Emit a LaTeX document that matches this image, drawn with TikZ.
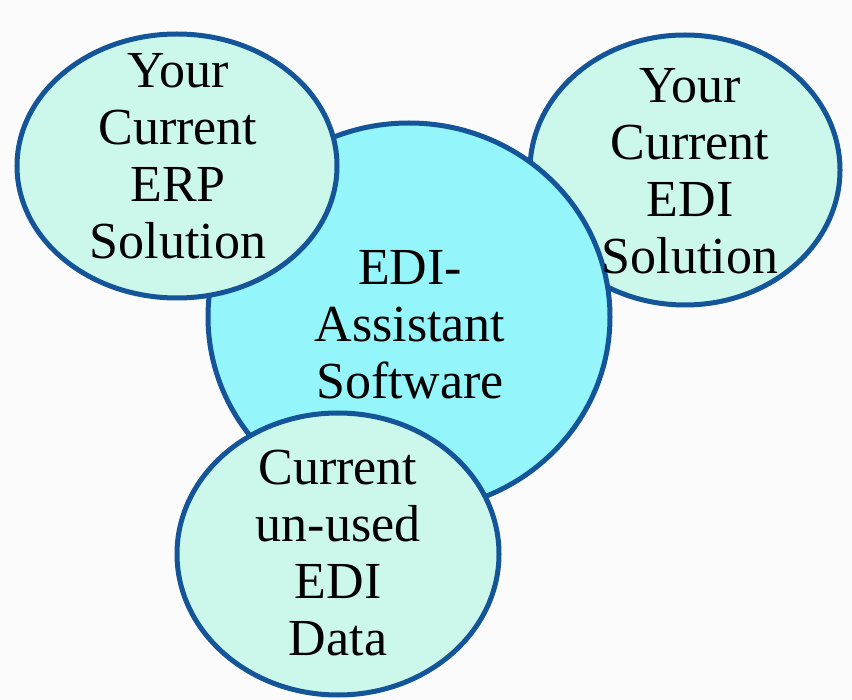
\documentclass[tikz,border=0pt]{standalone}
\usepackage{fontspec}
\setmainfont{Liberation Serif}
\usetikzlibrary{
  shapes.geometric, % for the ellipse shape of the bubbles
}
\definecolor{bubbleline}{HTML}{14559A}
\definecolor{mintfill}{HTML}{CCF8EC}
\definecolor{cyanfill}{HTML}{94F5FA}
\tikzset{
  bubble/.style={ % style for each bubble
    ellipse,draw=bubbleline,line width=5pt, % drawn as a thick blue ellipse
    fill=mintfill, % light mint fill
    inner sep=0pt,
  },
  hub/.style={ % style for the central bubble
    bubble, % inherit the bubble style
    fill=cyanfill, % brighter cyan fill
  },
  caption/.style={ % style for the bubble texts
    align=center,inner sep=0pt,
    font=\fontsize{52}{57}\selectfont,
  },
}
\begin{document}
\begin{tikzpicture}[x=1pt,y=-1pt]
	\useasboundingbox (0,0) rectangle (852,700);
	\fill[gray!3] (0,0) rectangle (852,700);
	
	\node (edi) [bubble, minimum width=310pt, minimum height=270pt] at (685,170) {};
	
	\node (hub) [hub, minimum width=402pt, minimum height=388pt] at (409,317) {};
	
	\node (erp) [bubble, minimum width=320pt, minimum height=264pt] at (177,166) {};
	
	\node (data) [bubble, minimum width=322pt, minimum height=282pt] at (338,554) {};
	
	\node (erp-text) [caption] at (178,156) {Your\\Current\\ERP\\Solution};
	\node (edi-text) [caption] at (690,171) {Your\\Current\\EDI\\Solution};
	\node (hub-text) [caption] at (410,325) {EDI-\\Assistant\\Software};
	\node (data-text) [caption] at (338,553) {Current\\un-used\\EDI\\Data};
\end{tikzpicture}
\end{document}
